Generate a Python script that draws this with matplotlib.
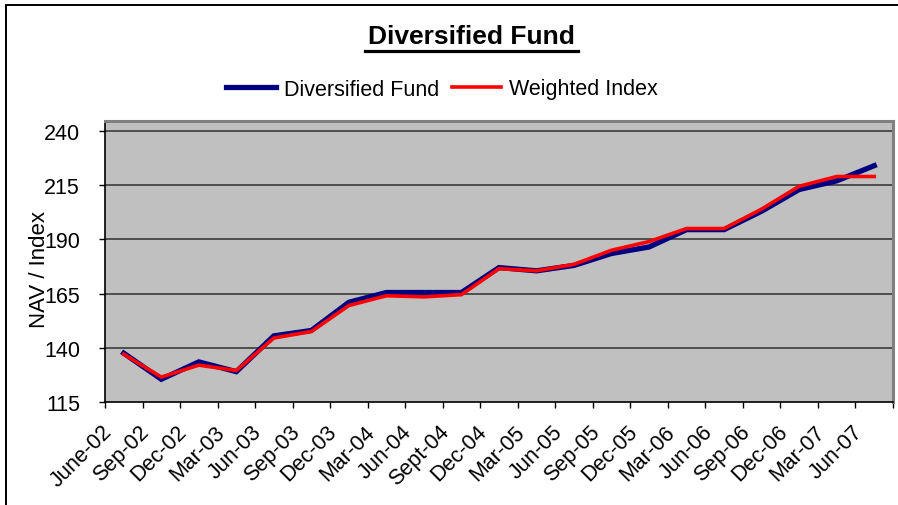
import numpy as np
import matplotlib
matplotlib.use("Agg")
import matplotlib.pyplot as plt
from matplotlib.lines import Line2D
from matplotlib.transforms import ScaledTranslation

plt.rcParams['font.family'] = ['Liberation Sans', 'DejaVu Sans']

# --- data ---
quarters = ['June-02', 'Sep-02', 'Dec-02', 'Mar-03', 'Jun-03', 'Sep-03', 'Dec-03',
            'Mar-04', 'Jun-04', 'Sept-04', 'Dec-04', 'Mar-05', 'Jun-05', 'Sep-05',
            'Dec-05', 'Mar-06', 'Jun-06', 'Sep-06', 'Dec-06', 'Mar-07', 'Jun-07']
fund_nav = [137.5, 125.5, 133.5, 129.0, 145.5, 148.0, 161.0, 165.5, 165.5, 165.5,
            177.0, 175.5, 178.0, 183.5, 186.5, 194.5, 194.5, 203.0, 213.0, 217.0, 224.0]
weighted_index = [137.0, 126.5, 132.0, 129.5, 144.5, 147.5, 159.5, 164.0, 163.5, 164.5,
                  176.5, 175.5, 178.5, 185.0, 189.0, 195.0, 195.0, 204.0, 214.5, 219.0, 219.0]
y_ticks = [115, 140, 165, 190, 215, 240]

W, H = 898, 506
fig = plt.figure(figsize=(W / 100, H / 100), dpi=100)
fig.patch.set_facecolor('white')

# outer chart frame (only top and left edges visible)
fig.add_artist(Line2D([6 / W, 6 / W], [0, 1 - 6 / H], color='black', lw=1.4))
fig.add_artist(Line2D([6 / W, 1], [1 - 6 / H, 1 - 6 / H], color='black', lw=1.4))

ax = fig.add_axes([105 / W, 103 / H, 788 / W, 281 / H])
ax.set_facecolor('#C0C0C0')

x = np.arange(len(quarters))
ax.plot(x, fund_nav, color='#000080', lw=3.8, solid_joinstyle='miter',
        label='Diversified Fund', zorder=3)
ax.plot(x, weighted_index, color='#FF0000', lw=2.6, solid_joinstyle='miter',
        label='Weighted Index', zorder=4)

ax.set_xlim(-0.5, len(quarters) - 0.5)
ax.set_ylim(115, 244.6)

ax.set_yticks(y_ticks)
ax.set_yticklabels([str(v) for v in y_ticks], fontsize=15.5)
ax.tick_params(axis='y', length=4.5, width=1, direction='out', pad=13.5, color='black')
for v in y_ticks[1:]:
    ax.axhline(v, color='#303030', lw=1.1, zorder=1)

ax.set_xticks(x)
ax.set_xticklabels(quarters, fontsize=15.5, rotation=45, ha='right', va='center',
                   rotation_mode='anchor')
ax.set_xticks(np.arange(-0.5, len(quarters)), minor=True)
ax.tick_params(axis='x', which='major', length=0, pad=19)
ax.tick_params(axis='x', which='minor', length=4.5, width=1, direction='out', color='black')
shift = ScaledTranslation(-15 / 100, 0, fig.dpi_scale_trans)
for lab in ax.get_xticklabels():
    lab.set_transform(lab.get_transform() + shift)

for side in ['top', 'right']:
    ax.spines[side].set_color('#808080')
    ax.spines[side].set_linewidth(2.2)
ax.spines['left'].set_color('black')
ax.spines['bottom'].set_color('black')
ax.spines['left'].set_linewidth(1.2)
ax.spines['bottom'].set_linewidth(1.2)

# the reference axis title sits over the tick labels, keep it there
ax.set_ylabel('NAV / Index', fontsize=16)
ax.yaxis.set_label_coords((50 - 105) / 788, (403 - 270) / 281)

# title with underline
fig.text(471.5 / W, 1 - 37 / H, 'Diversified Fund', fontsize=19, fontweight='bold',
         ha='center', va='center')
fig.add_artist(Line2D([365 / W, 578 / W], [1 - 51.5 / H, 1 - 51.5 / H],
                      color='black', lw=2.3))

fig.legend(loc='center', bbox_to_anchor=(442 / W, 1 - 90 / H), ncol=2, frameon=False,
           fontsize=15.5, handlelength=2.3, handletextpad=0.35, columnspacing=0.6,
           borderaxespad=0)

fig.savefig('out.png', dpi=100)
